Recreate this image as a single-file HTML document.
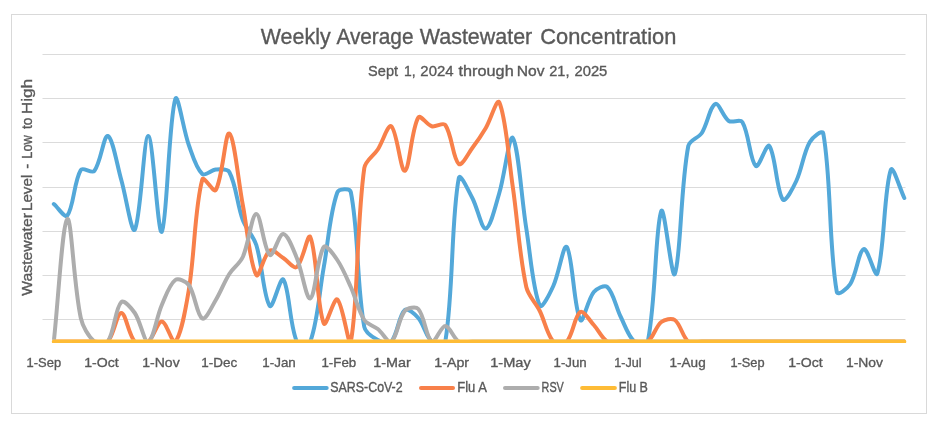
<!DOCTYPE html>
<html><head><meta charset="utf-8"><style>
html,body{margin:0;padding:0;background:#fff;}
svg{display:block;will-change:transform;}
text{font-family:"Liberation Sans",sans-serif;fill:#595959;stroke:#595959;stroke-width:0.35px;}
</style></head><body>
<svg width="951" height="425" viewBox="0 0 951 425">
<rect x="0" y="0" width="951" height="425" fill="#fff"/>
<rect x="11.5" y="14.5" width="915" height="399" fill="none" stroke="#D9D9D9" stroke-width="1"/>
<g stroke="#DBDBDB" stroke-width="1">
<line x1="42.5" x2="905.5" y1="54.5" y2="54.5"/>
<line x1="42.5" x2="905.5" y1="98.5" y2="98.5"/>
<line x1="42.5" x2="905.5" y1="142.5" y2="142.5"/>
<line x1="42.5" x2="905.5" y1="187.5" y2="187.5"/>
<line x1="42.5" x2="905.5" y1="231.5" y2="231.5"/>
<line x1="42.5" x2="905.5" y1="275.5" y2="275.5"/>
<line x1="42.5" x2="905.5" y1="319.5" y2="319.5"/>
</g>
<text x="260.80" y="44.00" font-size="21.20" textLength="69.81" lengthAdjust="spacingAndGlyphs">Weekly</text>
<text x="336.38" y="44.00" font-size="21.20" textLength="77.15" lengthAdjust="spacingAndGlyphs">Average</text>
<text x="419.80" y="44.00" font-size="21.20" textLength="112.44" lengthAdjust="spacingAndGlyphs">Wastewater</text>
<text x="540.30" y="44.00" font-size="21.20" textLength="135.99" lengthAdjust="spacingAndGlyphs">Concentration</text>
<text x="368.10" y="75.80" font-size="14.80" textLength="29.92" lengthAdjust="spacingAndGlyphs">Sept</text>
<text x="404.11" y="75.80" font-size="14.80" textLength="11.61" lengthAdjust="spacingAndGlyphs">1,</text>
<text x="420.39" y="75.80" font-size="14.80" textLength="33.17" lengthAdjust="spacingAndGlyphs">2024</text>
<text x="458.56" y="75.80" font-size="14.80" textLength="55.14" lengthAdjust="spacingAndGlyphs">through</text>
<text x="516.83" y="75.80" font-size="14.80" textLength="27.79" lengthAdjust="spacingAndGlyphs">Nov</text>
<text x="549.24" y="75.80" font-size="14.80" textLength="20.19" lengthAdjust="spacingAndGlyphs">21,</text>
<text x="574.47" y="75.80" font-size="14.80" textLength="32.87" lengthAdjust="spacingAndGlyphs">2025</text>
<text transform="translate(32.30,295.82) rotate(-90)" x="0" y="0" font-size="14.40" textLength="82.81" lengthAdjust="spacingAndGlyphs">Wastewater</text>
<text transform="translate(32.30,211.09) rotate(-90)" x="0" y="0" font-size="14.40" textLength="36.46" lengthAdjust="spacingAndGlyphs">Level</text>
<text transform="translate(32.30,168.64) rotate(-90)" x="0" y="0" font-size="14.40" textLength="4.87" lengthAdjust="spacingAndGlyphs">-</text>
<text transform="translate(32.30,158.72) rotate(-90)" x="0" y="0" font-size="14.40" textLength="23.54" lengthAdjust="spacingAndGlyphs">Low</text>
<text transform="translate(32.30,129.00) rotate(-90)" x="0" y="0" font-size="14.40" textLength="11.25" lengthAdjust="spacingAndGlyphs">to</text>
<text transform="translate(32.30,114.17) rotate(-90)" x="0" y="0" font-size="14.40" textLength="35.31" lengthAdjust="spacingAndGlyphs">High</text>
<text x="26.57" y="366.80" font-size="13.50" textLength="34.52" lengthAdjust="spacingAndGlyphs">1-Sep</text>
<text x="84.18" y="366.80" font-size="13.50" textLength="34.46" lengthAdjust="spacingAndGlyphs">1-Oct</text>
<text x="142.28" y="366.80" font-size="13.50" textLength="37.37" lengthAdjust="spacingAndGlyphs">1-Nov</text>
<text x="201.31" y="366.80" font-size="13.50" textLength="35.88" lengthAdjust="spacingAndGlyphs">1-Dec</text>
<text x="262.33" y="366.80" font-size="13.50" textLength="33.47" lengthAdjust="spacingAndGlyphs">1-Jan</text>
<text x="321.49" y="366.80" font-size="13.50" textLength="34.68" lengthAdjust="spacingAndGlyphs">1-Feb</text>
<text x="373.35" y="366.80" font-size="13.50" textLength="37.52" lengthAdjust="spacingAndGlyphs">1-Mar</text>
<text x="434.32" y="366.80" font-size="13.50" textLength="34.77" lengthAdjust="spacingAndGlyphs">1-Apr</text>
<text x="490.20" y="366.80" font-size="13.50" textLength="40.49" lengthAdjust="spacingAndGlyphs">1-May</text>
<text x="553.54" y="366.80" font-size="13.50" textLength="33.16" lengthAdjust="spacingAndGlyphs">1-Jun</text>
<text x="614.26" y="366.80" font-size="13.50" textLength="27.33" lengthAdjust="spacingAndGlyphs">1-Jul</text>
<text x="669.54" y="366.80" font-size="13.50" textLength="36.15" lengthAdjust="spacingAndGlyphs">1-Aug</text>
<text x="730.47" y="366.80" font-size="13.50" textLength="34.13" lengthAdjust="spacingAndGlyphs">1-Sep</text>
<text x="788.21" y="366.80" font-size="13.50" textLength="34.44" lengthAdjust="spacingAndGlyphs">1-Oct</text>
<text x="845.98" y="366.80" font-size="13.50" textLength="37.02" lengthAdjust="spacingAndGlyphs">1-Nov</text>
<text x="330.27" y="391.90" font-size="14.20" textLength="72.38" lengthAdjust="spacingAndGlyphs">SARS-CoV-2</text>
<text x="457.23" y="391.90" font-size="14.20" textLength="29.70" lengthAdjust="spacingAndGlyphs">Flu A</text>
<text x="541.57" y="391.90" font-size="14.20" textLength="22.24" lengthAdjust="spacingAndGlyphs">RSV</text>
<text x="618.80" y="391.90" font-size="14.20" textLength="29.17" lengthAdjust="spacingAndGlyphs">Flu B</text>
<defs><clipPath id="pc"><rect x="0" y="0" width="951" height="339.8"/></clipPath><clipPath id="pc2"><rect x="0" y="0" width="951" height="342.9"/></clipPath></defs>
<g fill="none" stroke-width="4.0" stroke-linecap="round" stroke-linejoin="round">
<g clip-path="url(#pc)">
<path stroke="#53A8D9" d="M53.80,204.00 C58.30,207.83 64.85,218.58 67.30,215.50 C73.85,207.25 73.80,181.54 80.80,170.00 C82.80,166.71 91.91,174.00 94.30,171.00 C100.91,162.67 103.76,134.65 107.80,136.00 C112.76,137.65 117.05,165.26 121.30,180.00 C126.05,196.46 131.63,234.76 134.80,229.60 C140.63,220.10 143.85,135.65 148.30,136.00 C152.85,136.35 158.02,236.88 161.80,231.70 C167.02,224.55 168.68,120.26 175.30,99.00 C177.68,91.36 183.40,130.01 188.80,145.00 C192.40,155.00 196.07,168.35 202.30,174.00 C205.07,176.51 211.22,169.84 215.80,169.50 C220.22,169.17 227.36,168.37 229.30,172.00 C236.36,185.20 237.07,204.50 242.80,220.00 C246.07,228.83 253.49,236.04 256.30,245.00 C262.49,264.70 263.70,298.21 269.80,306.00 C272.70,309.71 280.43,275.72 283.30,279.50 C289.43,287.58 289.38,324.53 296.80,341.60 C298.38,345.23 308.94,345.36 310.30,341.60 C317.94,320.49 319.30,291.86 323.80,267.00 C328.30,242.17 329.66,213.71 337.30,192.50 C338.66,188.72 349.99,187.94 350.80,192.00 C358.98,232.77 356.39,283.66 364.30,327.00 C365.39,332.99 372.58,337.18 377.80,340.00 C381.58,342.05 388.75,344.43 391.30,341.60 C397.75,334.44 398.62,315.40 404.80,310.00 C407.62,307.53 415.01,314.15 418.30,318.00 C424.01,324.68 425.79,336.34 431.80,341.60 C434.79,344.21 444.62,345.74 445.30,341.60 C453.62,291.22 450.95,219.73 458.80,178.00 C459.95,171.87 468.52,190.93 472.30,198.00 C477.52,207.77 481.59,229.28 485.80,228.50 C490.59,227.61 495.69,205.11 499.30,193.00 C504.69,174.94 509.36,133.48 512.80,138.00 C518.36,145.31 521.45,198.39 526.30,228.50 C530.45,254.22 532.90,290.80 539.80,305.50 C541.89,309.96 550.02,293.12 553.30,286.00 C559.01,273.62 563.58,242.95 566.80,247.00 C572.58,254.28 573.96,309.43 580.30,320.00 C582.96,324.43 587.65,299.52 593.80,292.00 C596.65,288.52 604.56,284.46 607.30,287.00 C613.56,292.80 615.94,307.18 620.80,317.00 C624.94,325.38 628.22,336.06 634.30,341.60 C637.22,344.26 646.96,345.66 647.80,341.60 C655.96,302.13 655.26,226.11 661.30,211.00 C664.26,203.58 671.80,281.23 674.80,274.00 C680.80,259.56 680.44,187.02 688.30,146.00 C689.44,140.03 698.48,138.17 701.80,133.00 C707.47,124.17 709.94,106.38 715.30,104.00 C718.94,102.38 723.26,117.30 728.80,121.00 C732.26,123.30 740.25,118.59 742.30,122.00 C749.25,133.59 749.90,160.75 755.80,166.00 C758.90,168.75 766.56,142.60 769.30,146.00 C775.56,153.77 776.44,191.26 782.80,199.50 C785.44,202.92 793.09,187.84 796.30,181.00 C802.09,168.67 803.31,153.42 809.80,142.00 C812.31,137.59 822.48,128.94 823.30,133.50 C831.48,178.94 828.61,246.34 836.80,292.00 C837.61,296.50 847.65,288.23 850.30,284.00 C856.64,273.90 858.64,251.00 863.80,249.00 C867.64,247.51 875.40,279.07 877.30,273.50 C884.40,252.73 883.87,189.39 890.80,170.00 C892.87,164.23 899.80,188.67 904.30,198.00"/>
<path stroke="#F8804A" d="M53.80,341.60 C58.30,341.60 62.80,341.60 67.30,341.60 C71.80,341.60 76.30,341.60 80.80,341.60 C85.30,341.60 89.80,341.60 94.30,341.60 C98.80,341.60 105.11,344.45 107.80,341.60 C114.11,334.92 116.80,313.00 121.30,313.00 C125.80,313.00 128.49,334.92 134.80,341.60 C137.49,344.45 145.08,344.00 148.30,341.60 C154.08,337.30 157.30,321.50 161.80,321.50 C166.30,321.50 172.49,344.88 175.30,341.60 C181.49,334.38 185.88,307.50 188.80,290.00 C194.88,253.47 194.50,208.39 202.30,179.50 C203.50,175.06 213.75,193.49 215.80,190.00 C222.75,178.16 225.30,131.28 229.30,133.50 C234.30,136.28 238.25,181.18 242.80,205.00 C247.25,228.34 249.84,264.11 256.30,275.00 C258.84,279.27 264.00,254.15 269.80,250.50 C273.00,248.48 278.91,255.32 283.30,258.00 C287.91,260.82 293.83,269.31 296.80,267.00 C302.83,262.31 307.84,231.86 310.30,237.00 C316.84,250.69 316.95,307.65 323.80,323.50 C325.95,328.48 333.85,297.18 337.30,299.50 C342.85,303.22 348.98,350.48 350.80,341.60 C357.98,306.65 356.35,224.58 364.30,168.00 C365.35,160.56 373.66,155.90 377.80,149.50 C382.66,142.00 388.01,123.70 391.30,126.30 C397.01,130.80 400.68,172.14 404.80,170.80 C409.68,169.21 411.34,128.97 418.30,117.50 C420.34,114.14 426.91,124.94 431.80,126.30 C435.91,127.44 443.07,121.89 445.30,125.00 C452.07,134.46 452.83,158.91 458.80,164.00 C461.83,166.58 468.12,153.57 472.30,148.00 C477.12,141.58 481.71,134.91 485.80,128.00 C490.71,119.71 497.03,97.43 499.30,102.40 C506.03,117.10 508.67,158.75 512.80,187.00 C517.67,220.28 519.23,254.53 526.30,287.00 C528.23,295.86 535.74,302.78 539.80,311.00 C544.74,320.98 546.89,334.33 553.30,341.60 C555.89,344.53 564.16,344.49 566.80,341.60 C573.16,334.63 574.59,315.51 580.30,312.00 C583.59,309.98 589.60,320.39 593.80,325.00 C598.60,330.26 601.78,338.21 607.30,341.60 C610.78,343.74 616.30,341.60 620.80,341.60 C625.30,341.60 629.80,341.60 634.30,341.60 C638.80,341.60 644.54,343.96 647.80,341.60 C653.54,337.43 655.58,326.58 661.30,322.00 C664.58,319.38 671.66,317.72 674.80,320.00 C680.66,324.25 682.42,336.89 688.30,341.60 C691.42,344.09 697.30,341.60 701.80,341.60 C706.30,341.60 710.80,341.60 715.30,341.60 C719.80,341.60 724.30,341.60 728.80,341.60 C733.30,341.60 737.80,341.60 742.30,341.60 C746.80,341.60 751.30,341.60 755.80,341.60 C760.30,341.60 764.80,341.60 769.30,341.60 C773.80,341.60 778.30,341.60 782.80,341.60 C787.30,341.60 791.80,341.60 796.30,341.60 C800.80,341.60 805.30,341.60 809.80,341.60 C814.30,341.60 818.80,341.60 823.30,341.60 C827.80,341.60 832.30,341.60 836.80,341.60 C841.30,341.60 845.80,341.60 850.30,341.60 C854.80,341.60 859.30,341.60 863.80,341.60 C868.30,341.60 872.80,341.60 877.30,341.60 C881.80,341.60 886.30,341.60 890.80,341.60 C895.30,341.60 899.80,341.60 904.30,341.60"/>
<path stroke="#ADADAD" d="M53.80,341.60 C58.30,300.74 62.33,223.35 67.30,219.00 C71.33,215.48 73.73,285.88 80.80,318.00 C82.72,326.74 88.29,336.34 94.30,341.60 C97.29,344.21 105.60,344.82 107.80,341.60 C114.60,331.62 114.95,308.73 121.30,302.00 C123.94,299.20 131.60,308.31 134.80,313.00 C140.60,321.51 144.27,342.79 148.30,341.60 C153.27,340.13 156.59,316.88 161.80,305.00 C165.59,296.35 169.33,284.42 175.30,280.00 C178.33,277.76 186.24,281.34 188.80,285.00 C195.23,294.17 196.79,315.44 202.30,318.50 C205.79,320.44 211.85,306.51 215.80,300.00 C220.85,291.68 224.13,282.23 229.30,274.00 C233.13,267.90 239.87,263.50 242.80,257.00 C248.87,243.50 251.70,214.34 256.30,214.00 C260.70,213.67 264.10,250.78 269.80,255.00 C273.10,257.44 279.02,233.52 283.30,234.00 C288.02,234.52 293.27,249.57 296.80,258.00 C302.27,271.04 306.30,300.03 310.30,298.40 C315.30,296.36 317.15,256.46 323.80,247.00 C326.15,243.66 333.85,254.89 337.30,260.00 C342.85,268.23 346.67,277.83 350.80,287.00 C355.67,297.83 358.12,310.38 364.30,320.00 C367.11,324.38 373.59,325.63 377.80,329.00 C382.59,332.83 388.10,343.73 391.30,341.60 C397.10,337.73 398.41,318.72 404.80,311.00 C407.41,307.85 415.79,306.16 418.30,309.00 C424.79,316.35 426.12,338.02 431.80,341.60 C435.12,343.69 440.80,326.00 445.30,326.00 C449.80,326.00 453.36,338.46 458.80,341.60 C462.36,343.66 467.80,341.60 472.30,341.60 C476.80,341.60 481.30,341.60 485.80,341.60 C490.30,341.60 494.80,341.60 499.30,341.60 C503.80,341.60 508.30,341.60 512.80,341.60 C517.30,341.60 521.80,341.60 526.30,341.60 C530.80,341.60 535.30,341.60 539.80,341.60 C544.30,341.60 548.80,341.60 553.30,341.60 C557.80,341.60 562.30,341.60 566.80,341.60 C571.30,341.60 575.80,341.60 580.30,341.60 C584.80,341.60 589.30,341.60 593.80,341.60 C598.30,341.60 602.80,341.60 607.30,341.60 C611.80,341.60 616.30,341.60 620.80,341.60 C625.30,341.60 629.80,341.60 634.30,341.60 C638.80,341.60 643.30,341.60 647.80,341.60 C652.30,341.60 656.80,341.60 661.30,341.60 C665.80,341.60 670.30,341.60 674.80,341.60 C679.30,341.60 683.80,341.60 688.30,341.60 C692.80,341.60 697.30,341.60 701.80,341.60 C706.30,341.60 710.80,341.60 715.30,341.60 C719.80,341.60 724.30,341.60 728.80,341.60 C733.30,341.60 737.80,341.60 742.30,341.60 C746.80,341.60 751.30,341.60 755.80,341.60 C760.30,341.60 764.80,341.60 769.30,341.60 C773.80,341.60 778.30,341.60 782.80,341.60 C787.30,341.60 791.80,341.60 796.30,341.60 C800.80,341.60 805.30,341.60 809.80,341.60 C814.30,341.60 818.80,341.60 823.30,341.60 C827.80,341.60 832.30,341.60 836.80,341.60 C841.30,341.60 845.80,341.60 850.30,341.60 C854.80,341.60 859.30,341.60 863.80,341.60 C868.30,341.60 872.80,341.60 877.30,341.60 C881.80,341.60 886.30,341.60 890.80,341.60 C895.30,341.60 899.80,341.60 904.30,341.60"/>
</g>
<path clip-path="url(#pc2)" stroke="#FEBC36" d="M53.80,341.60 L904.30,341.60"/>
</g>
<g stroke-width="4.0" stroke-linecap="round">
<line x1="294.1" x2="326.7" y1="388" y2="388" stroke="#53A8D9"/>
<line x1="421.0" x2="453.0" y1="388" y2="388" stroke="#F8804A"/>
<line x1="505.0" x2="537.7" y1="388" y2="388" stroke="#ADADAD"/>
<line x1="582.1" x2="614.9" y1="388" y2="388" stroke="#FEBC36"/>
</g>
</svg>
</body></html>
